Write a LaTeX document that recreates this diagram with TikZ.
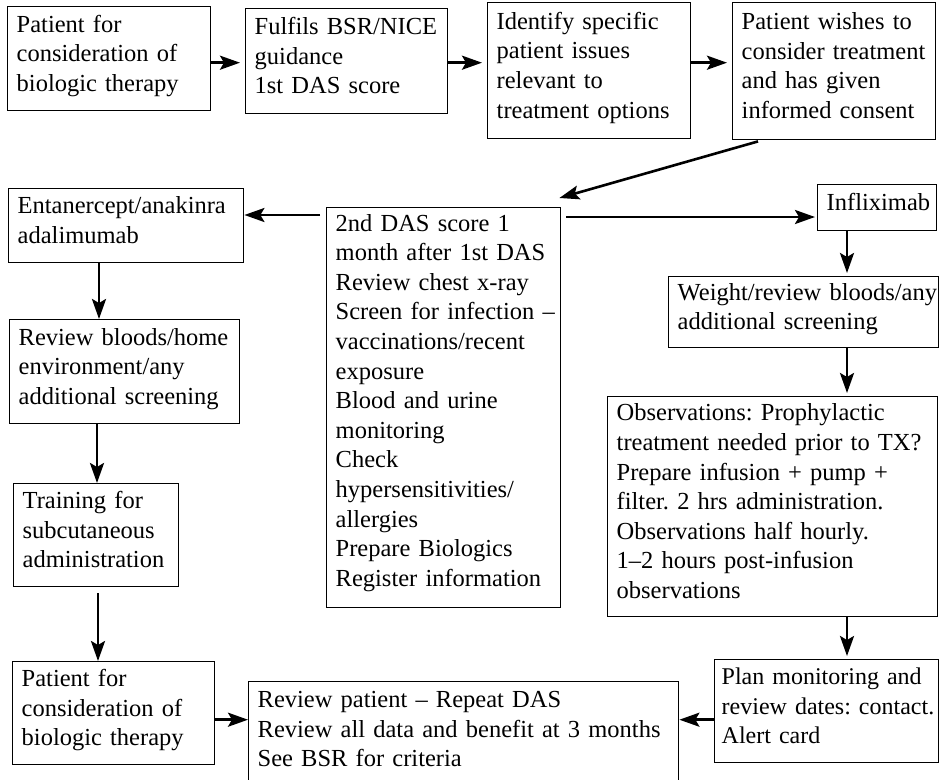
\documentclass[tikz,border=0pt]{standalone}
\usepackage{fontspec}
\setmainfont{Liberation Serif}
\usetikzlibrary{arrows.meta,calc}
\frenchspacing
\newcommand{\ls}[1]{\raisebox{3pt}[\height][\depth]{\begin{tabular}{@{}l@{}}#1\end{tabular}}}
\tikzset{
  box/.style={draw=black, line width=1.4pt, rectangle, anchor=north west,
    inner xsep=9pt, inner ysep=0pt, align=left,
    font=\fontsize{24.5}{29.6}\selectfont\frenchspacing},
  arr/.style={line width=2.6pt, -{Stealth[length=20pt,width=14pt,inset=4pt]}}
}
\begin{document}
\begin{tikzpicture}[x=1pt,y=-1pt]
\useasboundingbox (0,0) rectangle (939,779);
\clip (0,0) rectangle (939,779);
% top row
\node[box, text width=185pt, minimum height=104pt] (b1) at (7,6)
  {\ls{Patient for\\consideration of\\biologic therapy}};
\node[box, text width=184pt, minimum height=105pt] (b2) at (245,8)
  {\ls{Fulfils BSR/NICE\\guidance\\1st DAS score}};
\node[box, text width=185pt, minimum height=136pt] (b3) at (487,2)
  {\ls{Identify specific\\patient issues\\relevant to\\treatment options}};
\node[box, text width=185pt, minimum height=137pt] (b4) at (732,2)
  {\ls{Patient wishes to\\consider treatment\\and has given\\informed consent}};
% middle
\node[box, text width=216pt, minimum height=400pt] (das) at (326,207)
  {\raisebox{2pt}[\height][\depth]{\ls{2nd DAS score 1\\month after 1st DAS\\Review chest x-ray\\Screen for infection --\\vaccinations/recent\\exposure\\Blood and urine\\monitoring\\Check\\hypersensitivities/\\allergies\\Prepare Biologics\\Register information}}};
% left column
\node[box, text width=217pt, minimum height=74pt] (ent) at (8,188)
  {\ls{Entanercept/anakinra\\adalimumab}};
\node[box, text width=212pt, minimum height=104pt] (rev) at (9,319)
  {\ls{Review bloods/home\\environment/any\\additional screening}};
\node[box, text width=147pt, minimum height=103pt] (train) at (13,483)
  {\ls{Training for\\subcutaneous\\administration}};
\node[box, text width=184pt, minimum height=103pt] (p2) at (12,661)
  {\ls{Patient for\\consideration of\\biologic therapy}};
% right column
\node[box, text width=101pt, minimum height=46pt] (infl) at (817,184)
  {\ls{Infliximab}};
\node[box, text width=252pt, minimum height=71pt] (weight) at (668,276)
  {\ls{Weight/review bloods/any\\additional screening}};
\node[box, text width=312pt, minimum height=220pt] (obs) at (607,396)
  {\ls{Observations: Prophylactic\\treatment needed prior to TX?\\Prepare infusion + pump +\\filter. 2 hrs administration.\\Observations half hourly.\\1--2 hours post-infusion\\observations}};
\node[box, text width=210pt, inner xsep=7pt, minimum height=103pt,
      font=\fontsize{24}{29.6}\selectfont\frenchspacing] (plan) at (714,659)
  {\ls{Plan monitoring and\\review dates: contact.\\Alert card}};
\node[box, text width=412pt, minimum height=105pt] (rp) at (248,681)
  {\ls{Review patient -- Repeat DAS\\Review all data and benefit at 3 months\\See BSR for criteria}};
% connectors top row
\coordinate (r1) at ([shift={(0,4)}]b1.east);
\draw[arr, shorten >=5pt] (r1) -- (r1 -| b2.west);
\coordinate (r2) at ([shift={(0,1.5)}]b2.east);
\draw[arr, shorten >=5pt] (r2) -- (r2 -| b3.west);
\draw[arr, shorten >=5pt] (r2 -| b3.east) -- (r2 -| b4.west);
\draw[arr] ([shift={(26,1)}]b4.south west) -- ([shift={(-2,-9)}]das.north east);
% from DAS box
\coordinate (l1) at ([shift={(-6,8)}]das.north west);
\draw[arr] (l1) -- (l1 -| ent.east);
\coordinate (q1) at ([shift={(5,10)}]das.north east);
\draw[arr, shorten >=2pt] (q1) -- (q1 -| infl.west);
% left column
\coordinate (c1) at ([shift={(91,0)}]ent.south west);
\draw[arr] (c1) -- (c1 |- rev.north);
\coordinate (c2) at ([shift={(88,0)}]rev.south west);
\draw[arr] (c2) -- (c2 |- train.north);
\coordinate (c3) at ([shift={(85,6)}]train.south west);
\draw[arr] (c3) -- (c3 |- p2.north);
% right column
\coordinate (k1) at ([shift={(30,0)}]infl.south west);
\draw[arr, shorten >=3pt] (k1) -- (k1 |- weight.north);
\draw[arr, shorten >=3pt] (k1 |- weight.south) -- (k1 |- obs.north);
\draw[arr, shorten >=3pt] (k1 |- obs.south) -- (k1 |- plan.north);
% bottom row
\coordinate (m1) at ([shift={(0,8.5)}]plan.west);
\draw[arr] (m1) -- (m1 -| rp.east);
\draw[arr] (m1 -| p2.east) -- (m1 -| rp.west);
\end{tikzpicture}
\end{document}
